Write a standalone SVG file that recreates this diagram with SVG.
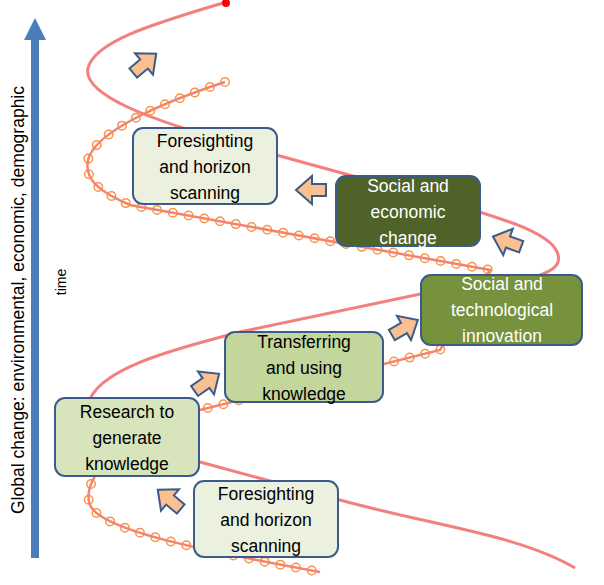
<svg xmlns="http://www.w3.org/2000/svg" width="604" height="585" viewBox="0 0 604 585">
<style>
.box{stroke:#3b5b8c;stroke-width:2}
.t{font-family:"Liberation Sans",Arial,sans-serif;font-size:17.5px;text-anchor:middle}
.w{fill:#ffffff}
.ba{fill:#fac090;stroke:#3b5b8c;stroke-width:2}
</style>
<defs>
<polygon id="arr" points="-14,-6 0,-6 0,-14 16,0 0,14 0,6 -14,6"/>
</defs>
<g id="axis">
<rect x="31" y="38" width="8" height="520" fill="#4a7ebb"/>
<polygon points="24,40 35,18 46,40" fill="#4a7ebb"/>
<text x="0" y="0" transform="translate(24,300) rotate(-90)" class="t" style="font-size:17.5px">Global change: environmental, economic, demographic</text>
<text x="0" y="0" transform="translate(66,282) rotate(-90)" class="t" style="font-size:14px">time</text>
</g>
<g id="connectors" fill="none">
<path d="M226,2 C160,22 95,40 88,68 C82,95 150,120 240,145 L440,200 C500,218 565,235 558,262 C552,282 480,285 430,292 L240,332 C170,350 95,370 88,405 C82,440 150,450 200,462 L340,500 C430,525 520,535 575,568" stroke="#f47f7f" stroke-width="3"/>
<circle cx="226" cy="3" r="4" fill="#ff0000"/>
<g>
<path d="M225,82 C170,100 95,130 88,160 C84,180 100,192 130,205 L490,270 L440,350 L200,410 C120,430 80,480 90,505 C100,530 200,550 320,572" stroke="#f79646" stroke-width="10" stroke-linecap="round" stroke-dasharray="0 16"/>
<path d="M225,82 C170,100 95,130 88,160 C84,180 100,192 130,205 L490,270 L440,350 L200,410 C120,430 80,480 90,505 C100,530 200,550 320,572" stroke="#ffffff" stroke-width="7" stroke-linecap="round" stroke-dasharray="0 16"/>
<path d="M225,82 C170,100 95,130 88,160 C84,180 100,192 130,205 L490,270 L440,350 L200,410 C120,430 80,480 90,505 C100,530 200,550 320,572" stroke="#f4836f" stroke-width="2.5"/>
</g>
</g>
<g id="arrows">
<use href="#arr" class="ba" transform="translate(144,64) rotate(-40)"/>
<use href="#arr" class="ba" transform="translate(312,190) rotate(180)"/>
<use href="#arr" class="ba" transform="translate(508,242) rotate(-160)"/>
<use href="#arr" class="ba" transform="translate(404,328) rotate(-30)"/>
<use href="#arr" class="ba" transform="translate(206,383) rotate(-35)"/>
<use href="#arr" class="ba" transform="translate(170,500) rotate(-140)"/>
</g>
<g id="n1"><rect class="box" x="133" y="128" width="144" height="76" rx="10" fill="#ebf1de"/>
<text class="t" x="205" y="147">Foresighting</text><text class="t" x="205" y="173">and horizon</text><text class="t" x="205" y="199">scanning</text></g>
<g id="n2"><rect class="box" x="336" y="176" width="144" height="70" rx="10" fill="#4f6228"/>
<text class="t w" x="408" y="192">Social and</text><text class="t w" x="408" y="218">economic</text><text class="t w" x="408" y="244">change</text></g>
<g id="n3"><rect class="box" x="421" y="275" width="161" height="70" rx="10" fill="#76923c"/>
<text class="t w" x="502" y="290">Social and</text><text class="t w" x="502" y="316">technological</text><text class="t w" x="502" y="342">innovation</text></g>
<g id="n4"><rect class="box" x="225" y="332" width="158" height="70" rx="10" fill="#c3d69b"/>
<text class="t" x="304" y="348">Transferring</text><text class="t" x="304" y="374">and using</text><text class="t" x="304" y="400">knowledge</text></g>
<g id="n5"><rect class="box" x="55" y="398" width="144" height="78" rx="10" fill="#d7e4bc"/>
<text class="t" x="127" y="418">Research to</text><text class="t" x="127" y="444">generate</text><text class="t" x="127" y="470">knowledge</text></g>
<g id="n6"><rect class="box" x="194" y="481" width="144" height="76" rx="10" fill="#ebf1de"/>
<text class="t" x="266" y="500">Foresighting</text><text class="t" x="266" y="526">and horizon</text><text class="t" x="266" y="552">scanning</text></g>
</svg>
